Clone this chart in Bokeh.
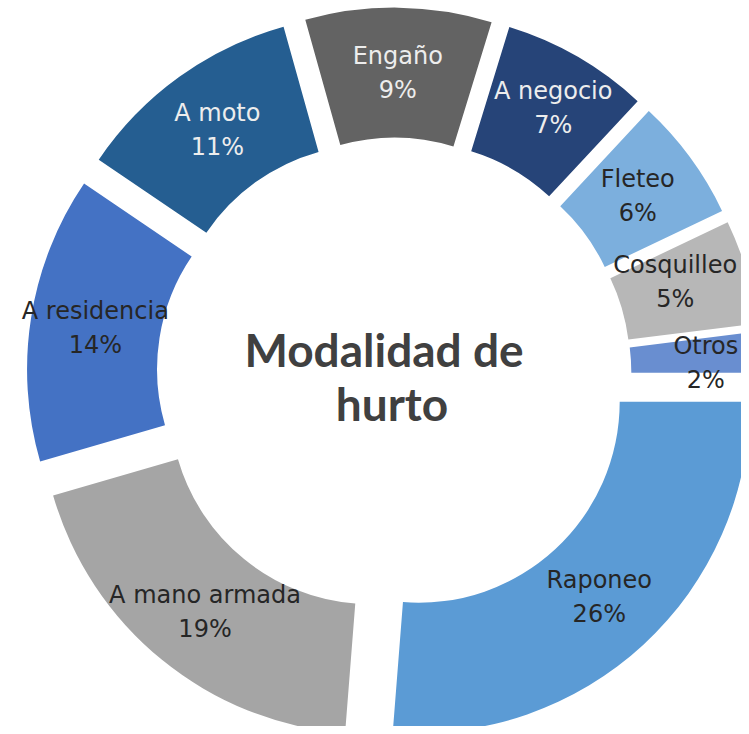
import math
from bokeh.plotting import figure
from bokeh.models import Range1d
from bokeh.embed import file_html
from bokeh.resources import INLINE
from bokeh.core.properties import value

# ---- data ----
categories = ["Raponeo", "A mano armada", "A residencia", "A moto", "Engaño",
              "A negocio", "Fleteo", "Cosquilleo", "Otros"]
shares = [26.3, 19.3, 14.0, 11.2, 9.1, 7.2, 6.0, 5.1, 2.0]
pct_labels = ["26%", "19%", "14%", "11%", "9%", "7%", "6%", "5%", "2%"]
title_lines = ["Modalidad de", "hurto"]

# ---- styles ----
colors = ["#5B9BD5", "#A5A5A5", "#4472C4", "#255E91", "#636363",
          "#264478", "#7CAFDD", "#B7B7B7", "#698ED0"]
label_colors = ["#262626", "#262626", "#262626", "#EDEDED", "#EDEDED",
                "#EDEDED", "#262626", "#262626", "#262626"]
label_nudge = [(0, 0), (2, -3), (0, 0), (0, 0), (0, 0),
               (8, 5), (0, 0), (-9, 7.5), (10, -6.5)]

W, H = 741, 726
cx, cy = 393.5, 351.5
R_in, R_out, explode = 201, 331, 36.4
R_mid = (R_in + R_out) / 2
LABEL_FONT = "DejaVu Sans"
TITLE_FONT = "Lato"

p = figure(width=W, height=H, x_range=Range1d(0, W), y_range=Range1d(0, H),
           output_backend="svg", toolbar_location=None, min_border=0)
p.axis.visible = False
p.grid.visible = False
p.outline_line_color = None
p.background_fill_color = "white"

total = sum(shares)
cum = 0.0
xs, ys, starts, ends, lxs, lys = [], [], [], [], [], []
for i, v in enumerate(shares):
    s = cum / total * 2 * math.pi
    cum += v
    e = cum / total * 2 * math.pi
    bis = -(s + e) / 2
    ox, oy = explode * math.cos(bis), explode * math.sin(bis)
    xs.append(cx + ox)
    ys.append(cy + oy)
    starts.append(-e)
    ends.append(-s)
    lxs.append(cx + ox + R_mid * math.cos(bis) + label_nudge[i][0])
    lys.append(cy + oy + R_mid * math.sin(bis) + label_nudge[i][1])

p.annular_wedge(x=xs, y=ys, inner_radius=R_in, outer_radius=R_out,
                start_angle=starts, end_angle=ends, direction="anticlock",
                fill_color=colors, line_color=None)

half = 17
p.text(x=lxs, y=[y + half for y in lys], text=categories,
       text_color=label_colors, text_font=value(LABEL_FONT), text_font_size="24px",
       text_align="center", text_baseline="middle")
p.text(x=lxs, y=[y - half for y in lys], text=pct_labels,
       text_color=label_colors, text_font=value(LABEL_FONT), text_font_size="24px",
       text_align="center", text_baseline="middle")

p.text(x=[cx - 10, cx - 2], y=[cy + 25.5, cy - 28], text=title_lines,
       text_color="#404040", text_font=value(TITLE_FONT), text_font_size="46px",
       text_font_style="bold", text_align="center", text_baseline="middle")

open("out.html", "w").write(file_html(p, INLINE))
